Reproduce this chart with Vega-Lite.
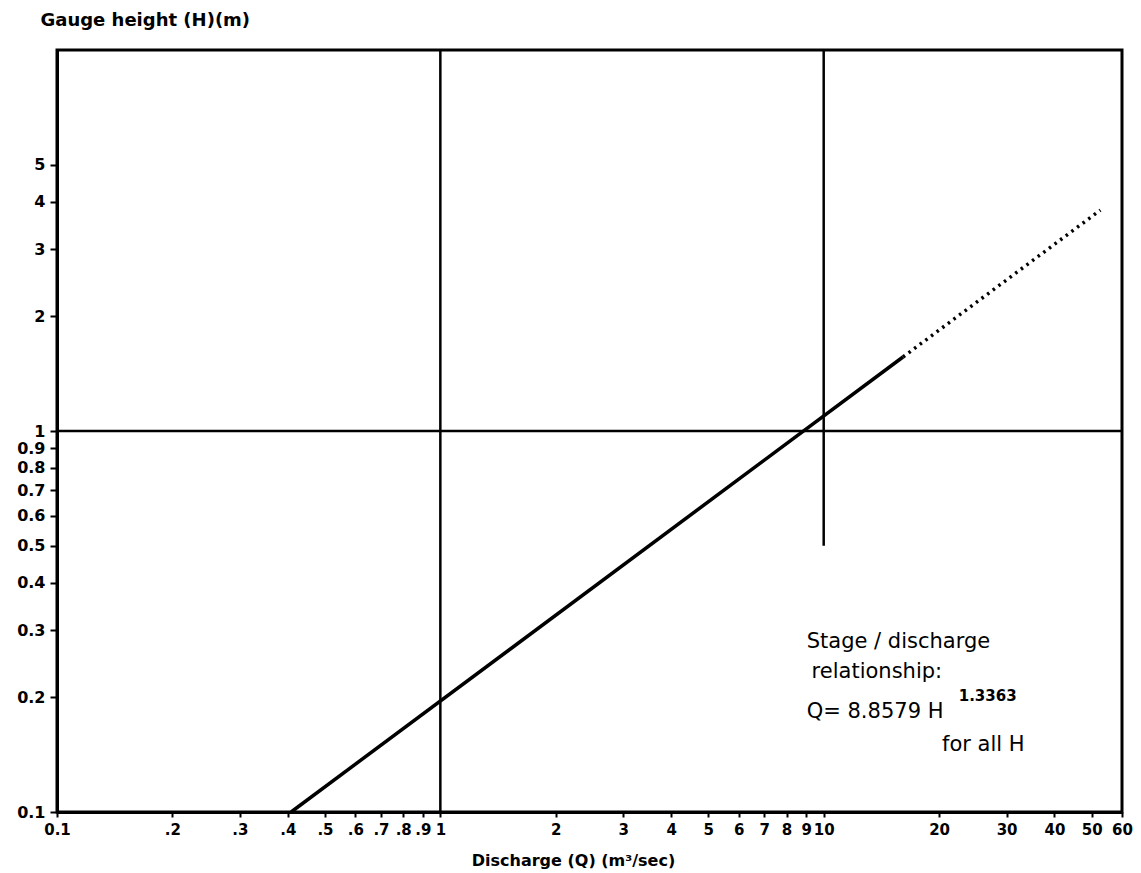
{
  "$schema": "https://vega.github.io/schema/vega-lite/v6.json",
  "width": 1065,
  "height": 762,
  "autosize": "none",
  "padding": {"left": 57, "top": 50, "right": 19, "bottom": 61},
  "background": "white",
  "config": {
    "view": {"stroke": "black", "strokeWidth": 3},
    "font": "DejaVu Sans",
    "text": {"font": "DejaVu Sans", "color": "black"}
  },
  "datasets": {
    "solid": [{"Q": 0.408, "H": 0.1}, {"Q": 16.1, "H": 1.564}],
    "dotted": [{"Q": 16.1, "H": 1.564}, {"Q": 52.7, "H": 3.8}]
  },
  "layer": [
    {
      "data": {"name": "solid"},
      "mark": {"type": "line", "color": "black", "strokeWidth": 3.5},
      "encoding": {
        "x": {
          "field": "Q", "type": "quantitative",
          "scale": {"type": "log", "domain": [0.1, 60], "nice": false},
          "axis": {
            "values": [0.1, 0.2, 0.3, 0.4, 0.5, 0.6, 0.7, 0.8, 0.9, 1, 2, 3, 4, 5, 6, 7, 8, 9, 10, 20, 30, 40, 50, 60],
            "labelExpr": "datum.value == 0.1 ? '0.1' : (datum.value < 1 ? '.' + round(datum.value * 10) : '' + round(datum.value))",
            "title": "Discharge (Q) (m³/sec)",
            "titleX": 516, "titleY": 48, "titleBaseline": "middle", "titleAlign": "center",
            "titleFontSize": 16, "titleFontWeight": "bold", "titleColor": "black",
            "tickSize": 5, "tickWidth": 2, "tickColor": "black",
            "domainColor": "black", "domainWidth": 3,
            "labelFontSize": 15, "labelFontWeight": "bold", "labelColor": "black",
            "labelPadding": 5, "labelOverlap": false, "labelFlush": false, "labelBound": false,
            "grid": false
          }
        },
        "y": {
          "field": "H", "type": "quantitative",
          "scale": {"type": "log", "domain": [0.1, 10], "nice": false},
          "axis": {
            "values": [0.1, 0.2, 0.3, 0.4, 0.5, 0.6, 0.7, 0.8, 0.9, 1, 2, 3, 4, 5],
            "labelExpr": "datum.value < 1 ? format(datum.value, '.1f') : '' + round(datum.value)",
            "title": "Gauge height (H)(m)",
            "titleAngle": 0, "titleAlign": "left", "titleBaseline": "middle",
            "titleX": -17, "titleY": -30,
            "titleFontSize": 18, "titleFontWeight": "bold", "titleColor": "black",
            "tickSize": 7, "tickWidth": 2, "tickColor": "black",
            "domainColor": "black", "domainWidth": 3,
            "labelFontSize": 16, "labelFontWeight": "bold", "labelColor": "black",
            "labelPadding": 5, "labelOverlap": false, "labelBound": false,
            "grid": false
          }
        }
      }
    },
    {
      "data": {"name": "dotted"},
      "mark": {"type": "line", "color": "black", "strokeWidth": 3.5, "strokeDash": [2.5, 4.5]},
      "encoding": {
        "x": {"field": "Q", "type": "quantitative"},
        "y": {"field": "H", "type": "quantitative"}
      }
    },
    {
      "data": {"values": [{}]},
      "mark": {"type": "rule", "color": "black", "strokeWidth": 2.5},
      "encoding": {"x": {"datum": 1, "type": "quantitative"}}
    },
    {
      "data": {"values": [{}]},
      "mark": {"type": "rule", "color": "black", "strokeWidth": 2.5},
      "encoding": {"y": {"datum": 1, "type": "quantitative"}}
    },
    {
      "data": {"values": [{}]},
      "mark": {"type": "rule", "color": "black", "strokeWidth": 2.5},
      "encoding": {
        "x": {"datum": 10, "type": "quantitative"},
        "y": {"datum": 0.5, "type": "quantitative"},
        "y2": {"datum": 10}
      }
    },
    {
      "data": {"values": [{}]},
      "mark": {"type": "text", "align": "left", "baseline": "middle", "fontSize": 21, "text": "Stage / discharge"},
      "encoding": {"x": {"datum": 9.03, "type": "quantitative"}, "y": {"datum": 0.2795, "type": "quantitative"}}
    },
    {
      "data": {"values": [{}]},
      "mark": {"type": "text", "align": "left", "baseline": "middle", "fontSize": 21, "text": "relationship:"},
      "encoding": {"x": {"datum": 9.3, "type": "quantitative"}, "y": {"datum": 0.2331, "type": "quantitative"}}
    },
    {
      "data": {"values": [{}]},
      "mark": {"type": "text", "align": "left", "baseline": "middle", "fontSize": 21, "text": "Q= 8.8579  H"},
      "encoding": {"x": {"datum": 9.03, "type": "quantitative"}, "y": {"datum": 0.183, "type": "quantitative"}}
    },
    {
      "data": {"values": [{}]},
      "mark": {"type": "text", "align": "left", "baseline": "middle", "fontSize": 15, "fontWeight": "bold", "text": "1.3363"},
      "encoding": {"x": {"datum": 22.5, "type": "quantitative"}, "y": {"datum": 0.2016, "type": "quantitative"}}
    },
    {
      "data": {"values": [{}]},
      "mark": {"type": "text", "align": "left", "baseline": "middle", "fontSize": 21, "text": "for all H"},
      "encoding": {"x": {"datum": 20.35, "type": "quantitative"}, "y": {"datum": 0.15, "type": "quantitative"}}
    }
  ]
}
